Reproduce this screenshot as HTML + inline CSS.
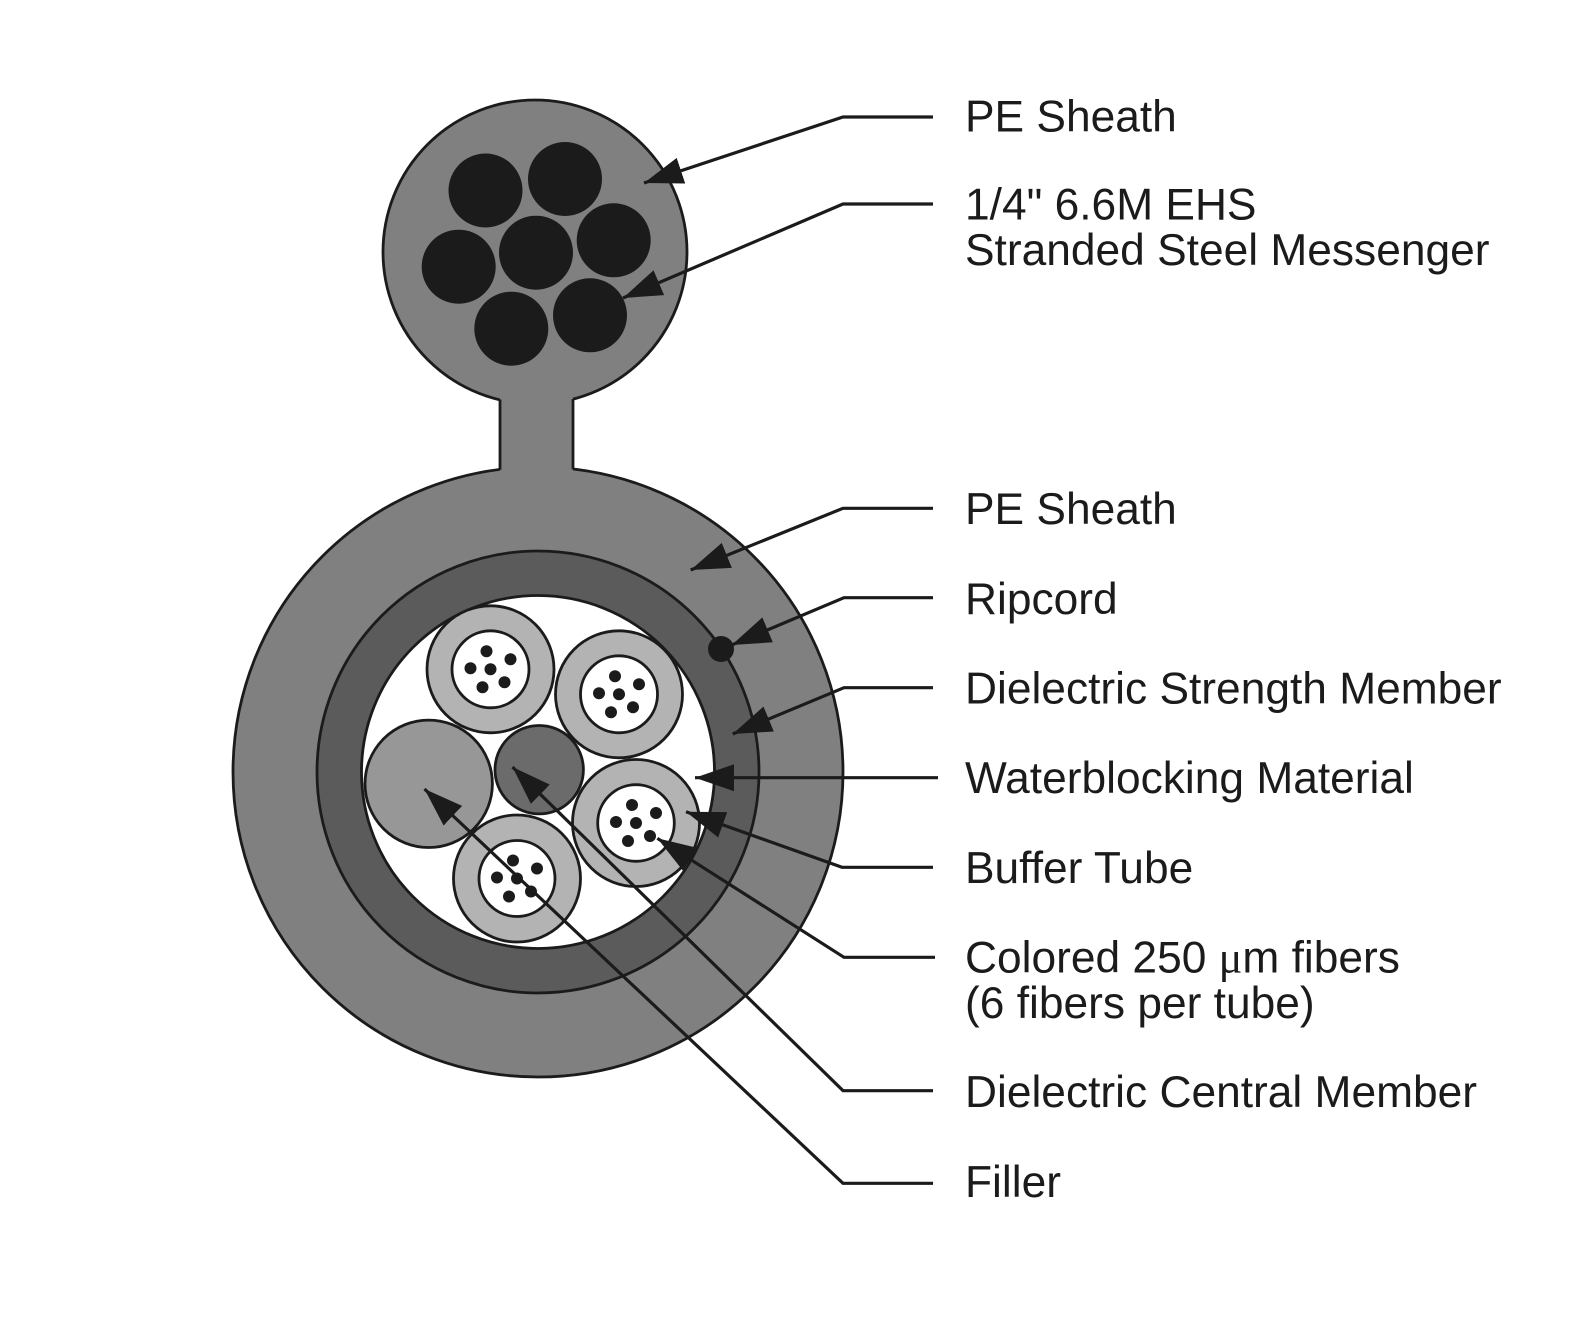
<!DOCTYPE html>
<html><head><meta charset="utf-8"><style>
html,body{margin:0;padding:0;background:#fff;}
svg{display:block;}
text{font-family:"Liberation Sans",Arial,sans-serif;font-size:44.3px;fill:#1b1b1b;}
</style></head><body>
<svg width="1594" height="1334" viewBox="0 0 1594 1334" xmlns="http://www.w3.org/2000/svg">
<defs>
<marker id="ah" markerUnits="userSpaceOnUse" markerWidth="40" markerHeight="28" refX="39" refY="13.5" orient="auto">
<path d="M0,0 L39,13.5 L0,27 z" fill="#1b1b1b"/>
</marker>
</defs>
<rect width="1594" height="1334" fill="#fff"/>
<g stroke="#1b1b1b" stroke-width="2.8">
<!-- messenger -->
<circle cx="535" cy="252" r="152" fill="#808080"/>
<!-- outer sheath -->
<circle cx="538" cy="772" r="305" fill="#808080"/>
</g>
<rect x="500" y="398" width="73" height="74" fill="#808080"/>
<g stroke="#1b1b1b" stroke-width="2.8">
<line x1="500" y1="399.5" x2="500" y2="469.8"/>
<line x1="573" y1="399" x2="573" y2="469.4"/>
<!-- strength member ring -->
<circle cx="538" cy="772" r="221" fill="#5b5b5b"/>
<circle cx="538" cy="772" r="176.5" fill="#fff"/>
</g>
<!-- strands -->
<g fill="#1b1b1b">
<circle cx="485.5" cy="190.5" r="37"/>
<circle cx="565" cy="179" r="37"/>
<circle cx="458.7" cy="266.7" r="37"/>
<circle cx="536" cy="252.7" r="37"/>
<circle cx="613.7" cy="240.3" r="37"/>
<circle cx="511.3" cy="328.7" r="37"/>
<circle cx="590" cy="315.3" r="37"/>
<!-- ripcord -->
<circle cx="721" cy="649" r="13"/>
</g>
<!-- filler and central member -->
<g stroke="#1b1b1b" stroke-width="2.8">
<circle cx="428.7" cy="783.8" r="63.7" fill="#979797"/>
<circle cx="539.2" cy="769.7" r="44.2" fill="#6b6b6b"/>
</g>
<!-- buffer tubes -->
<g stroke="#1b1b1b" stroke-width="2.8">
<g transform="translate(490.5,669.3)"><circle r="63.5" fill="#b3b3b3"/><circle r="38.5" fill="#fff"/></g>
<g transform="translate(619,694.3)"><circle r="63.5" fill="#b3b3b3"/><circle r="38.5" fill="#fff"/></g>
<g transform="translate(636,823)"><circle r="63.5" fill="#b3b3b3"/><circle r="38.3" fill="#fff"/></g>
<g transform="translate(517,878.5)"><circle r="63.5" fill="#b3b3b3"/><circle r="38" fill="#fff"/></g>
</g>
<g fill="#1b1b1b">
<g transform="translate(490.5,669.3)"><circle cx="-4" cy="-18" r="6"/><circle cx="20" cy="-10" r="6"/><circle cx="-20" cy="-1" r="6"/><circle cx="0" cy="0" r="6"/><circle cx="-8" cy="18" r="6"/><circle cx="14" cy="13" r="6"/></g>
<g transform="translate(619,694.3)"><circle cx="-4" cy="-18" r="6"/><circle cx="20" cy="-10" r="6"/><circle cx="-20" cy="-1" r="6"/><circle cx="0" cy="0" r="6"/><circle cx="-8" cy="18" r="6"/><circle cx="14" cy="13" r="6"/></g>
<g transform="translate(636,823)"><circle cx="-4" cy="-18" r="6"/><circle cx="20" cy="-10" r="6"/><circle cx="-20" cy="-1" r="6"/><circle cx="0" cy="0" r="6"/><circle cx="-8" cy="18" r="6"/><circle cx="14" cy="13" r="6"/></g>
<g transform="translate(517,878.5)"><circle cx="-4" cy="-18" r="6"/><circle cx="20" cy="-10" r="6"/><circle cx="-20" cy="-1" r="6"/><circle cx="0" cy="0" r="6"/><circle cx="-8" cy="18" r="6"/><circle cx="14" cy="13" r="6"/></g>
</g>
<!-- leaders -->
<g fill="none" stroke="#1b1b1b" stroke-width="3.2" stroke-linejoin="miter" marker-end="url(#ah)">
<polyline points="933,117 843,117 644,183"/>
<polyline points="933,204 843,204 623,298"/>
<polyline points="933,508.3 843,508.3 690.7,570"/>
<polyline points="933,597.7 844,597.7 731.7,645"/>
<polyline points="933,687.7 844,687.7 732.7,734"/>
<polyline points="938,777.7 695,777.7"/>
<polyline points="933,867.3 842,867.3 686,811.7"/>
<polyline points="935,957.3 844,957.3 657.3,838.3"/>
<polyline points="933,1090.7 843,1090.7 512.5,767"/>
<polyline points="933,1183.3 843,1183.3 424.5,789"/>
</g>
<!-- labels -->
<text x="965" y="131.5">PE Sheath</text>
<text x="965" y="219.5">1/4" 6.6M EHS</text>
<text x="965" y="265">Stranded Steel Messenger</text>
<text x="965" y="524">PE Sheath</text>
<text x="965" y="614">Ripcord</text>
<text x="965" y="703.5">Dielectric Strength Member</text>
<text x="965" y="793">Waterblocking Material</text>
<text x="965" y="883">Buffer Tube</text>
<text x="965" y="972.5">Colored 250 <tspan style="font-family:'Liberation Serif',serif">μ</tspan>m fibers</text>
<text x="965" y="1018">(6 fibers per tube)</text>
<text x="965" y="1107">Dielectric Central Member</text>
<text x="965" y="1197">Filler</text>
</svg>
</body></html>
